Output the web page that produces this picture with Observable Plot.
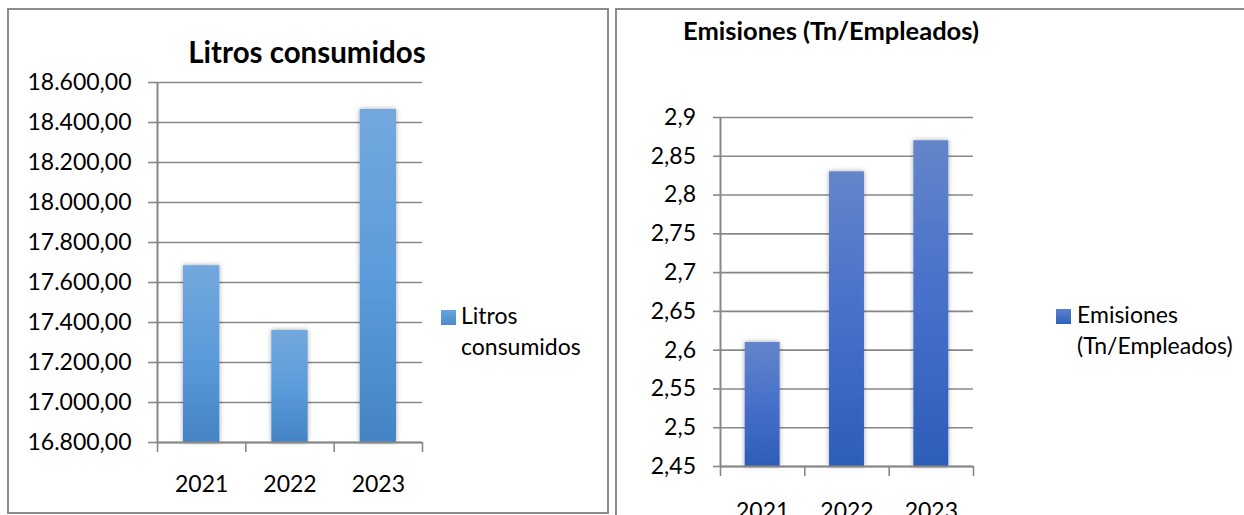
<!DOCTYPE html>
<html>
<head>
<meta charset="utf-8">
<script src="https://cdn.jsdelivr.net/npm/d3@7"></script>
<script src="https://cdn.jsdelivr.net/npm/@observablehq/plot@0.6"></script>
<style>
  html, body { margin: 0; padding: 0; background: #fff; }
  #page { position: relative; width: 1244px; height: 515px; overflow: hidden; font-family: Lato, "Open Sans", sans-serif; color: #000; }
  .panel { position: absolute; box-sizing: border-box; border: 2px solid #8c8c8c; background: #fff; }
  .title { position: absolute; font-weight: bold; white-space: nowrap; transform: translate(-50%, -50%); }
  .chart { position: absolute; left: 0; top: 0; }
  .legend { position: absolute; font-size: 23px; line-height: 31px; }
  .legend .sw { position: absolute; width: 15px; height: 15px; }
  .legend .tx { position: absolute; white-space: nowrap; }
</style>
</head>
<body>
<div id="page">
  <div class="panel" style="left:7px; top:8px; width:602px; height:506px;"></div>
  <div class="panel" style="left:615px; top:8px; width:660px; height:530px;"></div>
  <div id="leftChart" class="chart" style="left:0px; top:0px;"></div>
  <div id="rightChart" class="chart" style="left:614px; top:0px;"></div>
  <div class="title" style="left:307px; top:51px; font-size:29.5px;">Litros consumidos</div>
  <div class="title" style="left:831px; top:30px; font-size:25.5px;">Emisiones (Tn/Empleados)</div>
  <div class="legend" style="left:441px; top:300px;">
    <div class="sw" style="left:0; top:10px; background:linear-gradient(#6ba3dc,#4a8ccd);"></div>
    <div class="tx" style="left:20px; top:0;">Litros<br>consumidos</div>
  </div>
  <div class="legend" style="left:1056px; top:299px;">
    <div class="sw" style="left:0; top:10px; background:linear-gradient(#5b82cf,#2f60bb);"></div>
    <div class="tx" style="left:21px; top:0;">Emisiones<br>(Tn/Empleados)</div>
  </div>
</div>
<script>
// ---- data ----
const years = ["2021", "2022", "2023"];
const litros = [17684, 17360, 18465];
const emisiones = [2.61, 2.83, 2.87];
const litrosTicks = [16800, 17000, 17200, 17400, 17600, 17800, 18000, 18200, 18400, 18600];
const emisionesTicks = [2.45, 2.5, 2.55, 2.6, 2.65, 2.7, 2.75, 2.8, 2.85, 2.9];

const es = d3.formatLocale({decimal: ",", thousands: ".", grouping: [3], currency: ["", " €"]});
const fmtLitros = es.format(",.2f");
const fmtEmis = es.format(".2~f");

const GRID = "#888888";

function addDefs(svg, id, c1, c2, c3) {
  const defs = d3.select(svg).insert("defs", ":first-child");
  const g = defs.append("linearGradient").attr("id", id).attr("x1", 0).attr("y1", 0).attr("x2", 0).attr("y2", 1);
  g.append("stop").attr("offset", "0%").attr("stop-color", c1);
  g.append("stop").attr("offset", "50%").attr("stop-color", c2);
  g.append("stop").attr("offset", "100%").attr("stop-color", c3);
  const f = defs.append("filter").attr("id", id + "sh").attr("x", "-30%").attr("y", "-10%").attr("width", "160%").attr("height", "120%");
  f.append("feDropShadow").attr("dx", 0).attr("dy", 0).attr("stdDeviation", 2.5).attr("flood-color", "#000").attr("flood-opacity", 0.35);
  d3.select(svg).selectAll("g[aria-label='rect']").attr("filter", `url(#${id}sh)`);
}

function makeChart({values, ticks, fmt, width, height, margins, inset, yTickSize, yTickPad, xPad, gid, colors}) {
  const data = years.map((y, i) => ({year: y, i, value: values[i]}));
  const lo = ticks[0], hi = ticks[ticks.length - 1];
  const svg = Plot.plot({
    width, height,
    marginLeft: margins[0], marginRight: margins[1], marginTop: margins[2], marginBottom: margins[3],
    style: {fontFamily: "Lato, 'Open Sans', sans-serif", fontSize: "23px", color: "#000", background: "transparent", overflow: "visible"},
    x: {type: "linear", domain: [0, years.length]},
    y: {domain: [lo, hi]},
    marks: [
      Plot.ruleY(ticks, {stroke: GRID, strokeWidth: 1.6}),
      Plot.rectY(data, {x1: "i", x2: d => d.i + 1, y1: () => lo, y2: "value", insetLeft: inset, insetRight: inset, fill: `url(#${gid})`}),
      Plot.ruleX([0], {stroke: GRID, strokeWidth: 2}),
      Plot.ruleY([lo], {stroke: GRID, strokeWidth: 2}),
      Plot.axisY({ticks, tickSize: yTickSize, tickPadding: yTickPad, tickFormat: fmt, stroke: GRID, strokeWidth: 1.6, label: null}),
      Plot.axisX({ticks: d3.range(years.length + 1), tickSize: 10, tickFormat: () => "", stroke: GRID, strokeWidth: 1.6, label: null}),
      Plot.axisX({ticks: data.map(d => d.i + 0.5), tickSize: 0, tickPadding: xPad, tickFormat: v => years[Math.round(v - 0.5)], label: null})
    ]
  });
  addDefs(svg, gid, ...colors);
  return svg;
}

document.getElementById("leftChart").append(makeChart({
  values: litros, ticks: litrosTicks, fmt: fmtLitros,
  width: 610, height: 512, margins: [157, 188, 82, 70], inset: 26,
  yTickSize: 9, yTickPad: 17, xPad: 33, gid: "gl",
  colors: ["#73a8de", "#5b9cdb", "#4384c5"]
}));

document.getElementById("rightChart").append(makeChart({
  values: emisiones, ticks: emisionesTicks, fmt: fmtEmis,
  width: 630, height: 515, margins: [106, 271, 117, 49], inset: 24.7,
  yTickSize: 7, yTickPad: 17.5, xPad: 36, gid: "gr",
  colors: ["#6385ca", "#476fca", "#2d5db8"]
}));
</script>
</body>
</html>
